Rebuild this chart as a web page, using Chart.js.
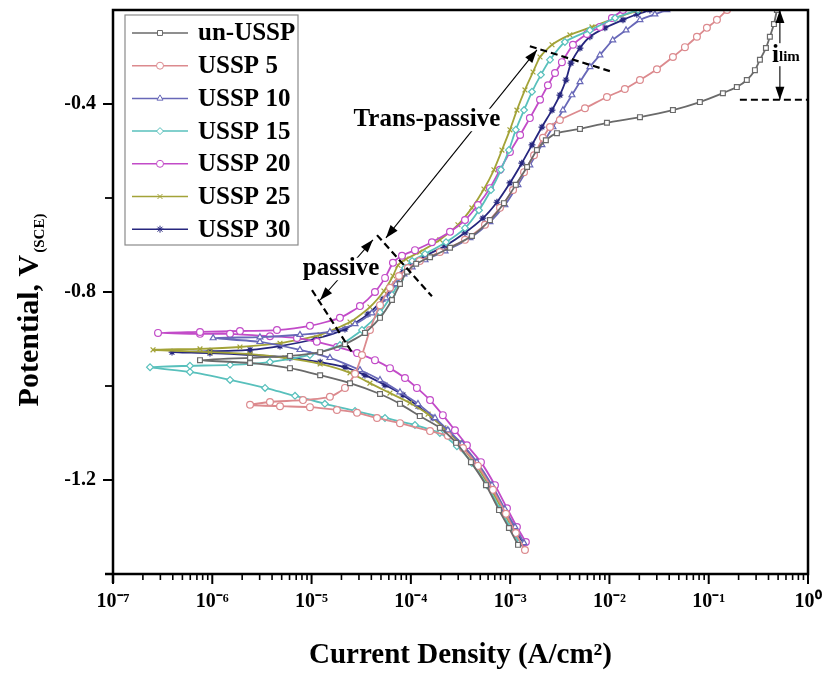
<!DOCTYPE html>
<html><head><meta charset="utf-8">
<script src="https://cdn.jsdelivr.net/npm/chart.js@4.4.1/dist/chart.umd.min.js"></script>
<style>html,body{margin:0;padding:0;background:#fff;}#wrap{width:825px;height:675px;position:relative;}</style>
</head><body><div id="wrap"><canvas id="c"></canvas></div>
<script>
// ---------------- DATA ----------------
const seriesNames = ['un-USSP','USSP 5','USSP 10','USSP 15','USSP 20','USSP 25','USSP 30'];

const unUSSP_I = [1.20e-3,9.72e-4,7.72e-4,5.71e-4,4.03e-4,2.85e-4,1.96e-4,1.23e-4,7.77e-5,4.89e-5,2.44e-5,1.22e-5,6.06e-6,2.40e-6,7.52e-7,
  2.40e-6,6.06e-6,1.22e-5,2.17e-5,3.45e-5,4.89e-5,6.45e-5,7.77e-5,9.14e-5,1.13e-4,1.56e-4,2.48e-4,4.12e-4,6.26e-4,8.66e-4,1.14e-3,1.48e-3,1.86e-3,2.29e-3,2.96e-3,5.05e-3,9.44e-3,2.03e-2,4.36e-2,8.15e-2,1.39e-1,1.92e-1,2.42e-1,2.92e-1,3.28e-1,3.77e-1,4.13e-1,4.54e-1,4.86e-1];
const unUSSP_E = [-1.338,-1.302,-1.264,-1.211,-1.162,-1.121,-1.089,-1.064,-1.038,-1.017,-0.994,-0.977,-0.962,-0.951,-0.945,
  -0.940,-0.936,-0.928,-0.911,-0.887,-0.855,-0.817,-0.783,-0.757,-0.740,-0.726,-0.706,-0.681,-0.647,-0.611,-0.572,-0.534,-0.498,-0.477,-0.462,-0.453,-0.440,-0.428,-0.413,-0.396,-0.377,-0.364,-0.349,-0.328,-0.306,-0.281,-0.257,-0.230,-0.200];

const ussp5_I = [1.41e-3,1.14e-3,9.07e-4,6.71e-4,4.74e-4,3.35e-4,2.36e-4,1.56e-4,7.77e-5,4.56e-5,2.87e-5,1.80e-5,9.63e-6,4.81e-6,2.40e-6,
  3.81e-6,8.19e-6,1.53e-5,2.17e-5,2.74e-5,3.22e-5,3.87e-5,4.89e-5,6.16e-5,7.59e-5,9.35e-5,1.23e-4,1.96e-4,3.51e-4,5.58e-4,7.90e-4,1.07e-3,1.38e-3,1.74e-3,2.14e-3,2.52e-3,3.17e-3,5.67e-3,9.44e-3,1.43e-2,2.03e-2,3.01e-2,4.36e-2,5.76e-2,7.61e-2,9.59e-2,1.21e-1,1.53e-1];
const ussp5_E = [-1.349,-1.313,-1.272,-1.221,-1.170,-1.132,-1.106,-1.096,-1.079,-1.068,-1.057,-1.051,-1.045,-1.043,-1.040,
  -1.034,-1.030,-1.023,-1.004,-0.974,-0.934,-0.881,-0.828,-0.791,-0.766,-0.749,-0.734,-0.715,-0.689,-0.657,-0.621,-0.583,-0.545,-0.509,-0.472,-0.449,-0.434,-0.409,-0.385,-0.368,-0.349,-0.326,-0.300,-0.279,-0.257,-0.238,-0.221,-0.200];

const ussp10_I = [1.38e-3,1.12e-3,8.86e-4,6.56e-4,4.63e-4,3.27e-4,2.36e-4,1.75e-4,1.18e-4,7.77e-5,4.89e-5,3.07e-5,1.53e-5,7.64e-6,3.02e-6,1.02e-6,
  3.02e-6,7.64e-6,1.53e-5,2.74e-5,4.06e-5,5.61e-5,7.08e-5,8.52e-5,1.03e-4,1.39e-4,2.21e-4,3.94e-4,6.26e-4,8.86e-4,1.20e-3,1.58e-3,2.09e-3,2.70e-3,3.40e-3,4.19e-3,5.05e-3,6.36e-3,8.02e-3,1.08e-2,1.47e-2,2.03e-2,2.87e-2,3.79e-2];
const ussp10_E = [-1.334,-1.300,-1.262,-1.211,-1.162,-1.123,-1.094,-1.068,-1.038,-1.013,-0.987,-0.966,-0.940,-0.923,-0.906,-0.898,
  -0.896,-0.891,-0.885,-0.868,-0.845,-0.813,-0.783,-0.762,-0.747,-0.732,-0.713,-0.685,-0.651,-0.615,-0.572,-0.530,-0.487,-0.449,-0.413,-0.381,-0.353,-0.321,-0.296,-0.264,-0.243,-0.221,-0.209,-0.200];

const ussp15_I = [1.23e-3,9.95e-4,7.90e-4,5.84e-4,4.12e-4,2.91e-4,1.96e-4,1.10e-4,5.49e-5,2.74e-5,1.36e-5,6.81e-6,3.40e-6,1.51e-6,5.96e-7,2.36e-7,
  5.96e-7,1.51e-6,3.81e-6,9.63e-6,1.93e-5,3.22e-5,4.89e-5,6.45e-5,7.77e-5,8.72e-5,1.03e-4,1.39e-4,2.26e-4,3.51e-4,4.85e-4,6.41e-4,8.08e-4,9.72e-4,1.14e-3,1.38e-3,1.66e-3,2.04e-3,2.52e-3,3.56e-3,6.36e-3,1.14e-2,1.94e-2];
const ussp15_E = [-1.334,-1.300,-1.262,-1.211,-1.164,-1.128,-1.100,-1.083,-1.068,-1.053,-1.038,-1.021,-1.004,-0.987,-0.970,-0.960,
  -0.957,-0.955,-0.949,-0.934,-0.913,-0.881,-0.843,-0.806,-0.774,-0.749,-0.734,-0.719,-0.694,-0.664,-0.626,-0.583,-0.540,-0.498,-0.455,-0.413,-0.374,-0.338,-0.306,-0.268,-0.243,-0.217,-0.200];

const ussp20_I = [1.44e-3,1.17e-3,9.29e-4,7.03e-4,5.08e-4,3.67e-4,2.78e-4,2.10e-4,1.56e-4,1.15e-4,8.72e-5,6.16e-5,4.35e-5,2.87e-5,1.80e-5,1.13e-5,7.13e-6,3.81e-6,1.51e-6,7.52e-7,2.84e-7,
  7.52e-7,1.90e-6,4.48e-6,9.63e-6,1.93e-5,3.07e-5,4.35e-5,5.49e-5,6.60e-5,8.14e-5,1.10e-4,1.63e-4,2.48e-4,3.51e-4,4.74e-4,6.26e-4,7.90e-4,9.95e-4,1.26e-3,1.58e-3,2.00e-3,2.40e-3,2.83e-3,3.32e-3,4.29e-3,5.94e-3,8.02e-3,1.06e-2,1.37e-2];
const ussp20_E = [-1.332,-1.300,-1.260,-1.211,-1.162,-1.126,-1.094,-1.062,-1.030,-1.004,-0.983,-0.962,-0.945,-0.930,-0.917,-0.906,-0.898,-0.894,-0.889,-0.889,-0.887,
  -0.885,-0.883,-0.881,-0.872,-0.855,-0.830,-0.800,-0.770,-0.738,-0.723,-0.711,-0.694,-0.672,-0.647,-0.615,-0.579,-0.540,-0.502,-0.466,-0.430,-0.391,-0.360,-0.334,-0.311,-0.274,-0.251,-0.236,-0.217,-0.200];

const ussp25_I = [1.28e-3,1.04e-3,8.27e-4,6.11e-4,4.32e-4,3.05e-4,2.15e-4,1.49e-4,9.79e-5,6.16e-5,3.87e-5,2.44e-5,1.22e-5,5.40e-6,2.40e-6,9.48e-7,2.53e-7,
  7.52e-7,1.90e-6,4.81e-6,1.22e-5,2.44e-5,3.87e-5,5.36e-5,6.60e-5,7.42e-5,8.93e-5,1.23e-4,1.96e-4,2.98e-4,4.12e-4,5.45e-4,6.87e-4,8.27e-4,9.95e-4,1.17e-3,1.41e-3,1.70e-3,2.00e-3,2.64e-3,4.00e-3,6.67e-3,1.14e-2,2.03e-2];
const ussp25_E = [-1.334,-1.300,-1.262,-1.211,-1.162,-1.121,-1.089,-1.060,-1.036,-1.015,-0.994,-0.972,-0.953,-0.940,-0.932,-0.928,-0.923,
  -0.921,-0.917,-0.909,-0.891,-0.864,-0.832,-0.798,-0.766,-0.743,-0.730,-0.715,-0.689,-0.657,-0.621,-0.581,-0.540,-0.498,-0.455,-0.413,-0.370,-0.332,-0.300,-0.274,-0.253,-0.236,-0.217,-0.200];

const ussp30_I = [1.35e-3,1.09e-3,8.66e-4,6.41e-4,4.52e-4,3.20e-4,2.31e-4,1.67e-4,1.18e-4,8.33e-5,5.49e-5,3.45e-5,2.17e-5,1.22e-5,6.06e-6,2.40e-6,9.48e-7,3.93e-7,
  9.48e-7,2.40e-6,4.81e-6,1.08e-5,2.17e-5,3.70e-5,5.24e-5,6.92e-5,8.33e-5,1.03e-4,1.39e-4,2.21e-4,3.51e-4,5.32e-4,7.36e-4,9.95e-4,1.31e-3,1.66e-3,2.09e-3,2.64e-3,3.17e-3,3.65e-3,4.10e-3,5.05e-3,6.36e-3,9.01e-3,1.37e-2,1.89e-2,2.56e-2];
const ussp30_E = [-1.336,-1.302,-1.264,-1.211,-1.162,-1.123,-1.094,-1.068,-1.043,-1.019,-0.998,-0.977,-0.960,-0.949,-0.940,-0.934,-0.930,-0.928,
  -0.926,-0.923,-0.915,-0.900,-0.879,-0.847,-0.815,-0.783,-0.757,-0.738,-0.723,-0.702,-0.674,-0.643,-0.609,-0.568,-0.526,-0.487,-0.449,-0.413,-0.381,-0.349,-0.313,-0.281,-0.257,-0.238,-0.221,-0.209,-0.200];

const xTickExponents = [-7,-6,-5,-4,-3,-2,-1,0];
const yTickLabels = [-0.4,-0.8,-1.2];
const yMinorTicks = [-0.6,-1.0];

// annotations (data coordinates: current, potential)
const transArrow = [[5.61e-5,-0.685],[1.86e-3,-0.285]];
const transDash = [[1.58e-3,-0.277],[1.01e-2,-0.330]];
const kneeDash = [[4.56e-5,-0.679],[1.63e-4,-0.809]];
const passiveDash = [[1.01e-5,-0.796],[2.55e-5,-0.928]];
const passiveArrow = [[1.22e-5,-0.817],[4.15e-5,-0.689]];
const ilimArrow = [[0.521,-0.200],[0.521,-0.391]];
const ilimDash = [[0.206,-0.391],[1.0,-0.391]];
const transLabel = {text:'Trans-passive', at:[1.45e-4,-0.434]};
const passiveLabel = {text:'passive', at:[1.98e-5,-0.751]};
const ilimLabel = {text:'i', sub:'lim', at:[0.60,-0.311]};

// ---------------- STYLE ----------------
const colors = ['#6a6a6a','#dc8a8e','#6868b8','#58c0bc','#c24bc8','#a3a338','#26267e'];
const markers = ['rect','circle','triangle','rectRot','circle','crossRot','star'];
const seriesI = [unUSSP_I,ussp5_I,ussp10_I,ussp15_I,ussp20_I,ussp25_I,ussp30_I];
const seriesE = [unUSSP_E,ussp5_E,ussp10_E,ussp15_E,ussp20_E,ussp25_E,ussp30_E];
const FONT = "'Liberation Serif','Times New Roman',serif";
Chart.defaults.font.family = FONT;

const SUP = {'-':'\u207B','0':'\u2070','1':'\u00B9','2':'\u00B2','3':'\u00B3','4':'\u2074','5':'\u2075','6':'\u2076','7':'\u2077','8':'\u2078','9':'\u2079'};
const sup = n => String(n).split('').map(c => SUP[c]).join('');

const datasets = seriesNames.map((name, k) => ({
  label: name,
  data: seriesI[k].map((v, j) => ({x: v, y: seriesE[k][j]})),
  borderColor: colors[k],
  backgroundColor: '#ffffff',
  pointBorderColor: colors[k],
  pointBackgroundColor: '#ffffff',
  pointStyle: markers[k],
  pointRadius: 3.4,
  pointBorderWidth: 1.2,
  borderWidth: 1.8,
  showLine: true,
  tension: 0.2,
  fill: false
}));

function arrowHead(ctx, x1, y1, x2, y2, len, wid) {
  const a = Math.atan2(y2 - y1, x2 - x1);
  ctx.beginPath();
  ctx.moveTo(x2, y2);
  ctx.lineTo(x2 - len*Math.cos(a) + wid/2*Math.sin(a), y2 - len*Math.sin(a) - wid/2*Math.cos(a));
  ctx.lineTo(x2 - len*Math.cos(a) - wid/2*Math.sin(a), y2 - len*Math.sin(a) + wid/2*Math.cos(a));
  ctx.closePath();
  ctx.fill();
}

const decorPlugin = {
  id: 'decor',
  afterDraw(chart) {
    const ctx = chart.ctx, xs = chart.scales.x, ys = chart.scales.y, ca = chart.chartArea;
    const P = (p) => [xs.getPixelForValue(p[0]), ys.getPixelForValue(p[1])];
    ctx.save();
    // frame
    ctx.strokeStyle = '#000'; ctx.lineWidth = 2.5; ctx.lineCap = 'butt';
    ctx.strokeRect(ca.left, ca.top, ca.right - ca.left, ca.bottom - ca.top);
    ctx.beginPath();
    ctx.moveTo(ca.left, ca.bottom); ctx.lineTo(ca.left, ca.bottom + 9);
    ctx.moveTo(ca.left, ca.bottom); ctx.lineTo(ca.left - 8, ca.bottom);
    ctx.stroke();
    // x ticks
    ctx.lineWidth = 2;
    xTickExponents.forEach(e => {
      const px = xs.getPixelForValue(Math.pow(10, e));
      ctx.beginPath(); ctx.moveTo(px, ca.bottom); ctx.lineTo(px, ca.bottom + 10); ctx.stroke();
      if (e < 0) {
        for (let k = 2; k <= 9; k++) {
          const mx = xs.getPixelForValue(k * Math.pow(10, e));
          ctx.lineWidth = 1.6;
          ctx.beginPath(); ctx.moveTo(mx, ca.bottom); ctx.lineTo(mx, ca.bottom + 6); ctx.stroke();
          ctx.lineWidth = 2;
        }
      }
    });
    // y ticks
    yTickLabels.forEach(v => {
      const py = ys.getPixelForValue(v);
      ctx.beginPath(); ctx.moveTo(ca.left, py); ctx.lineTo(ca.left - 10, py); ctx.stroke();
    });
    ctx.lineWidth = 1.8;
    yMinorTicks.forEach(v => {
      const py = ys.getPixelForValue(v);
      ctx.beginPath(); ctx.moveTo(ca.left, py); ctx.lineTo(ca.left - 8, py); ctx.stroke();
    });

    // axis titles
    ctx.fillStyle = '#000';
    ctx.font = 'bold 29px ' + FONT;
    ctx.textAlign = 'center'; ctx.textBaseline = 'alphabetic';
    ctx.fillText('Current Density (A/cm\u00B2)', (ca.left + ca.right) / 2, 663);

    ctx.save();
    ctx.translate(38, 310);
    ctx.rotate(-Math.PI / 2);
    ctx.font = 'bold 30px ' + FONT;
    const main = 'Potential, V';
    const w1 = ctx.measureText(main).width;
    ctx.font = 'bold 15px ' + FONT;
    const w2 = ctx.measureText('(SCE)').width;
    const start = -(w1 + w2 + 2) / 2;
    ctx.textAlign = 'left';
    ctx.font = 'bold 30px ' + FONT;
    ctx.fillText(main, start, 0);
    ctx.font = 'bold 15px ' + FONT;
    ctx.fillText('(SCE)', start + w1 + 2, 6);
    ctx.restore();

    // legend
    const lx = 125, ly = 15, lw = 173, lh = 230;
    ctx.fillStyle = '#fff';
    ctx.fillRect(lx, ly, lw, lh);
    ctx.strokeStyle = '#8a8a8a'; ctx.lineWidth = 1.2;
    ctx.strokeRect(lx, ly, lw, lh);
    chart.data.datasets.forEach((ds, k) => {
      const y = 33 + k * 32.7;
      ctx.strokeStyle = ds.borderColor; ctx.lineWidth = 1.5;
      ctx.beginPath(); ctx.moveTo(132, y); ctx.lineTo(188, y); ctx.stroke();
      ctx.fillStyle = '#fff'; ctx.strokeStyle = ds.borderColor; ctx.lineWidth = 1;
      Chart.helpers.drawPoint(ctx, {pointStyle: ds.pointStyle, radius: 3.5, borderWidth: 1, rotation: 0}, 160, y);
      ctx.fillStyle = '#000';
      ctx.font = 'bold 25px ' + FONT;
      ctx.textAlign = 'left'; ctx.textBaseline = 'middle';
      ctx.fillText(ds.label, 198, y + 1);
    });

    // annotations
    ctx.fillStyle = '#000'; ctx.strokeStyle = '#000';
    const dashed = (seg) => {
      const a = P(seg[0]), b = P(seg[1]);
      ctx.save(); ctx.lineWidth = 2.2; ctx.setLineDash([7, 4]);
      ctx.beginPath(); ctx.moveTo(a[0], a[1]); ctx.lineTo(b[0], b[1]); ctx.stroke();
      ctx.restore();
    };
    const dblArrow = (seg, lw) => {
      const a = P(seg[0]), b = P(seg[1]);
      ctx.lineWidth = lw;
      ctx.beginPath(); ctx.moveTo(a[0], a[1]); ctx.lineTo(b[0], b[1]); ctx.stroke();
      arrowHead(ctx, a[0], a[1], b[0], b[1], 13, 9);
      arrowHead(ctx, b[0], b[1], a[0], a[1], 13, 9);
    };
    dashed(transDash); dashed(kneeDash); dashed(passiveDash); dashed(ilimDash);
    dblArrow(transArrow, 1.1);
    dblArrow(passiveArrow, 1.1);
    dblArrow(ilimArrow, 1.1);

    const label = (lab, size) => {
      const p = P(lab.at);
      ctx.font = 'bold ' + size + 'px ' + FONT;
      const w = ctx.measureText(lab.text).width;
      ctx.fillStyle = '#fff';
      ctx.fillRect(p[0] - w/2 - 2, p[1] - size*0.45, w + 4, size*0.9);
      ctx.fillStyle = '#000';
      ctx.textAlign = 'center'; ctx.textBaseline = 'middle';
      ctx.fillText(lab.text, p[0], p[1]);
    };
    label(transLabel, 25);
    label(passiveLabel, 25);

    // i_lim
    const ip = P(ilimLabel.at);
    ctx.font = 'bold 25px ' + FONT;
    const wi = ctx.measureText(ilimLabel.text).width;
    ctx.font = 'bold 15px ' + FONT;
    const wl = ctx.measureText(ilimLabel.sub).width;
    ctx.fillStyle = '#fff';
    ctx.fillRect(ip[0] - (wi + wl)/2 - 1, ip[1] - 19, wi + wl + 2, 23);
    ctx.fillStyle = '#000';
    ctx.textAlign = 'left'; ctx.textBaseline = 'alphabetic';
    ctx.font = 'bold 25px ' + FONT;
    ctx.fillText(ilimLabel.text, ip[0] - (wi + wl)/2, ip[1]);
    ctx.font = 'bold 15px ' + FONT;
    ctx.fillText(ilimLabel.sub, ip[0] - (wi + wl)/2 + wi, ip[1] - 1);
    ctx.restore();
  }
};

new Chart(document.getElementById('c'), {
  type: 'scatter',
  data: { datasets },
  options: {
    responsive: true,
    maintainAspectRatio: false,
    animation: false,
    layout: { padding: { left: 0, right: 17, top: 10, bottom: 0 } },
    plugins: { legend: { display: false }, tooltip: { enabled: false } },
    scales: {
      x: {
        type: 'logarithmic',
        min: 1e-7, max: 1,
        grid: { display: false, drawTicks: false },
        border: { display: false },
        afterFit: s => { s.height = 101; s.paddingLeft = 0; s.paddingRight = 0; },
        ticks: {
          autoSkip: false, maxRotation: 0, minRotation: 0, padding: 16,
          color: '#000',
          font: { family: FONT, size: 20, weight: 'bold' },
          callback: (v) => {
            const l = Math.log10(v);
            const r = Math.round(l);
            return (Math.abs(l - r) < 1e-6 && xTickExponents.includes(r)) ? '10' + sup(r) : '';
          }
        }
      },
      y: {
        type: 'linear',
        min: -1.4, max: -0.2,
        grid: { display: false, drawTicks: false },
        border: { display: false },
        afterBuildTicks: s => { s.ticks = s.ticks.filter(t => t.value > -1.39 && t.value < -0.21); },
        afterFit: s => { s.width = 113; s.paddingTop = 0; s.paddingBottom = 0; },
        ticks: {
          stepSize: 0.2, padding: 17,
          color: '#000',
          font: { family: FONT, size: 20, weight: 'bold' },
          callback: (v) => yTickLabels.some(t => Math.abs(t - v) < 1e-6) ? v.toFixed(1) : ''
        }
      }
    }
  },
  plugins: [decorPlugin]
});
</script></body></html>
